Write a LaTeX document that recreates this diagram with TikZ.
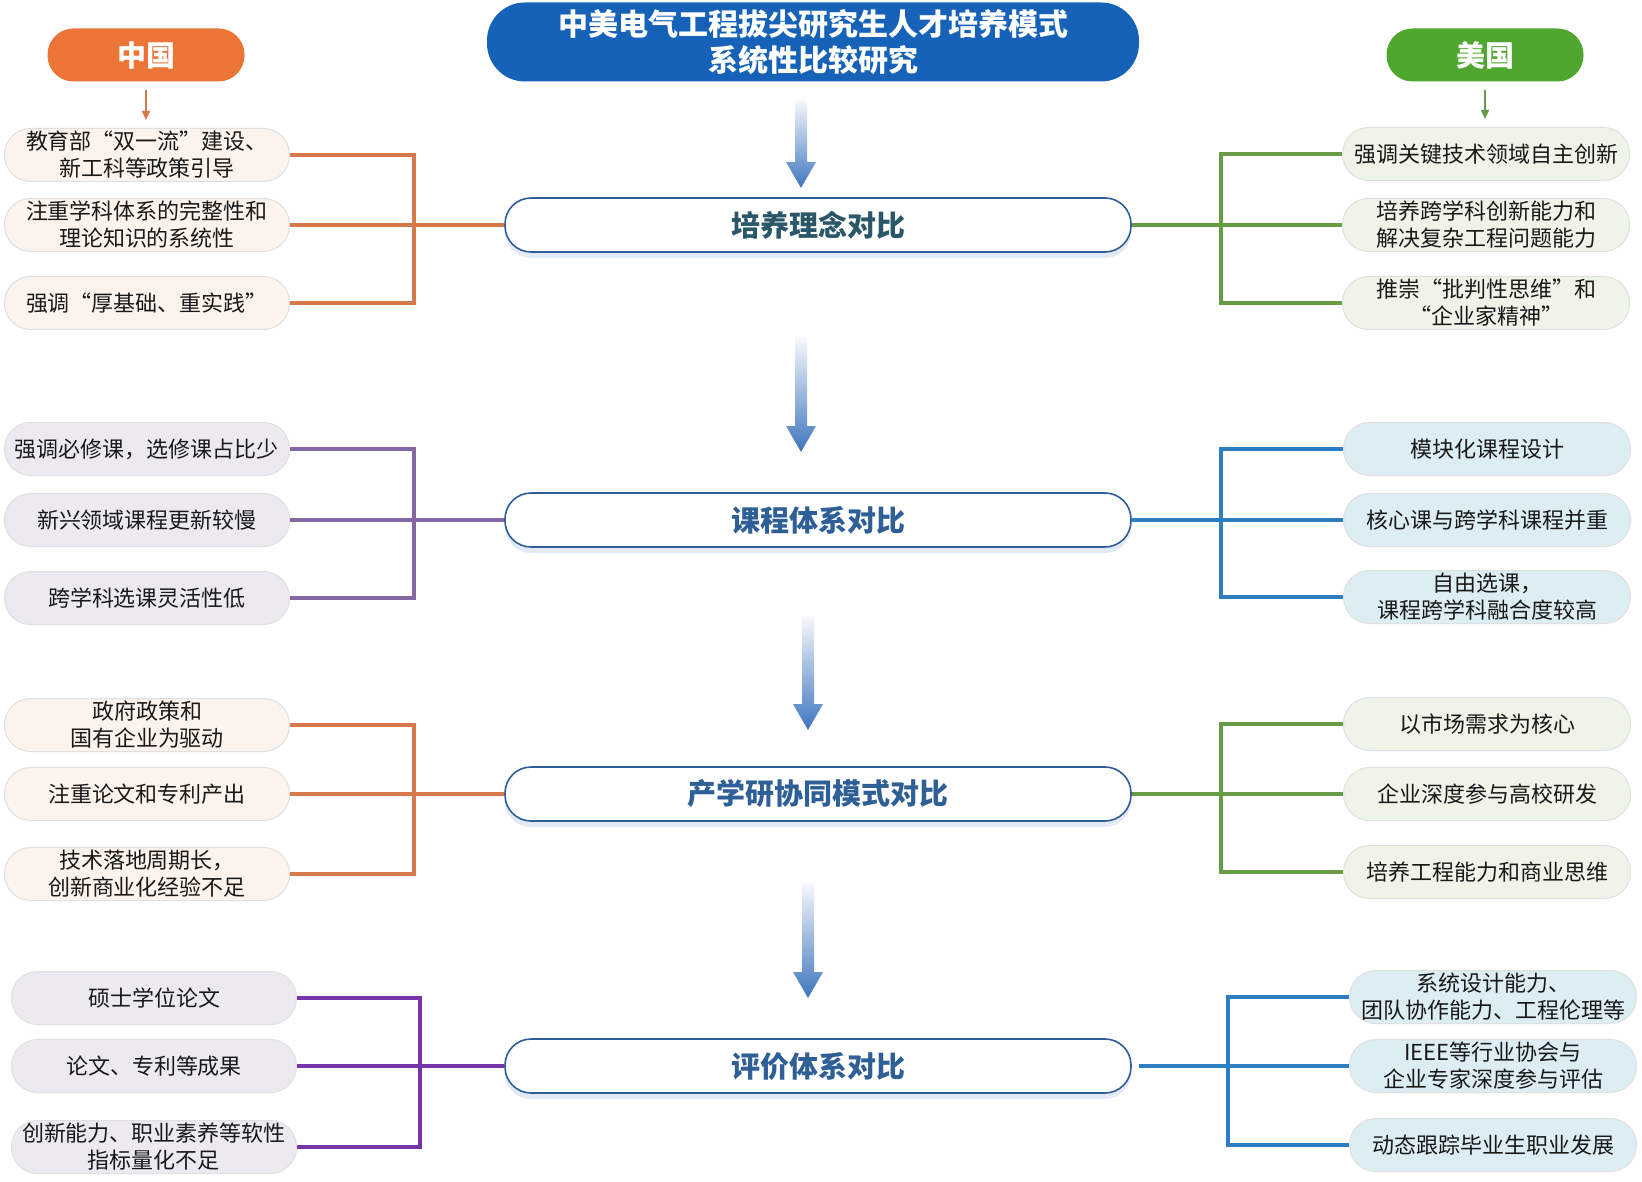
\documentclass[tikz,border=0pt]{standalone}
\usepackage{fontspec}
\setmainfont{Noto Sans CJK SC}
\usetikzlibrary{arrows.meta,shadows}

\definecolor{titleblue}{HTML}{1662B8}
\definecolor{cnorange}{HTML}{EB7537}
\definecolor{usgreen}{HTML}{50A72F}
\definecolor{boxedge}{HTML}{2F5D99}
\definecolor{headteal}{HTML}{2A5868}
\definecolor{headblue}{HTML}{2F5F97}
\definecolor{lnorange}{HTML}{D6784A}
\definecolor{lnpurple}{HTML}{8468A6}
\definecolor{lnviolet}{HTML}{7534A8}
\definecolor{lngreen}{HTML}{679B46}
\definecolor{lnblue}{HTML}{2C7DC2}
\definecolor{fillpeach}{HTML}{FCF3EC}
\definecolor{filllilac}{HTML}{ECEAF0}
\definecolor{fillmint}{HTML}{EFF4E9}
\definecolor{fillsky}{HTML}{DDEDF4}
\definecolor{arrowblue}{HTML}{3E75BD}

\tikzset{
  pill/.style={rectangle,rounded corners=26pt,minimum height=53pt,inner xsep=2pt,inner ysep=0pt,align=center},
  sidebox/.style={pill,draw=black!12,line width=1pt,text=black!90,font=\fontsize{22}{27}\selectfont},
  leftbox/.style={sidebox,minimum width=285pt},
  rightbox/.style={sidebox,minimum width=287pt},
  headbox/.style={pill,minimum width=626pt,minimum height=54pt,draw=boxedge,line width=1.6pt,fill=white,
    text=headblue,font=\fontsize{29}{34}\selectfont\bfseries,
    drop shadow={shadow xshift=0pt,shadow yshift=-6pt,fill=arrowblue!30,opacity=0.5}},
  titlebox/.style={pill,rounded corners=38pt,minimum width=652pt,minimum height=79pt,fill=titleblue,
    text=white,font=\fontsize{30}{36}\selectfont\bfseries},
  countrybox/.style={pill,minimum width=197pt,text=white,font=\fontsize{29}{34}\selectfont\bfseries},
  link/.style={line width=3.2pt},
  downarrow/.style={line width=1.6pt,-{Triangle[width=8pt,length=9pt]},shorten <=8pt,shorten >=8pt}
}

\begin{document}
\begin{tikzpicture}[x=1pt,y=-1pt]
\useasboundingbox (0,0) rectangle (1642,1182);

% title and the two countries
\node[titlebox] (title) at (813,42) {中美电气工程拔尖研究生人才培养模式\\系统性比较研究};
\node[countrybox,fill=cnorange] (cn) at (146,55) {中国};
\node[countrybox,fill=usgreen] (us) at (1485,55) {美国};

% the four comparisons
\node[headbox,text=headteal] (c1) at (818,225) {培养理念对比};
\node[headbox] (c2) at (818,520) {课程体系对比};
\node[headbox] (c3) at (818,794) {产学研协同模式对比};
\node[headbox] (c4) at (818,1066) {评价体系对比};

% flow arrows between the comparisons
\foreach \x/\ya/\yb in {801/100/188, 801/337/452, 808/616/730, 808/883/998}
  \shade[top color=arrowblue!4,bottom color=arrowblue]
    (\x-6,\ya) -- (\x+6,\ya) -- (\x+6,\yb-26) -- (\x+15,\yb-26) -- (\x,\yb)
    -- (\x-15,\yb-26) -- (\x-6,\yb-26) -- cycle;

% China
\begin{scope}[every node/.style={leftbox}]
  \node[fill=fillpeach] (l1a) at (147,155) {教育部“双一流”建设、\\新工科等政策引导};
  \node[fill=fillpeach] (l1b) at (147,225) {注重学科体系的完整性和\\理论知识的系统性};
  \node[fill=fillpeach] (l1c) at (147,303) {强调“厚基础、重实践”};
  \node[fill=filllilac] (l2a) at (147,449) {强调必修课，选修课占比少};
  \node[fill=filllilac] (l2b) at (147,520) {新兴领域课程更新较慢};
  \node[fill=filllilac] (l2c) at (147,598) {跨学科选课灵活性低};
  \node[fill=fillpeach] (l3a) at (147,725) {政府政策和\\国有企业为驱动};
  \node[fill=fillpeach] (l3b) at (147,794) {注重论文和专利产出};
  \node[fill=fillpeach] (l3c) at (147,874) {技术落地周期长，\\创新商业化经验不足};
  \node[fill=filllilac] (l4a) at (154,998) {硕士学位论文};
  \node[fill=filllilac] (l4b) at (154,1066) {论文、专利等成果};
  \node[fill=filllilac] (l4c) at (154,1147) {创新能力、职业素养等软性\\指标量化不足};
\end{scope}

% USA
\begin{scope}[every node/.style={rightbox}]
  \node[fill=fillmint] (r1a) at (1486,154) {强调关键技术领域自主创新};
  \node[fill=fillmint] (r1b) at (1486,225) {培养跨学科创新能力和\\解决复杂工程问题能力};
  \node[fill=fillmint] (r1c) at (1486,303) {推崇“批判性思维”和\\“企业家精神”};
  \node[fill=fillsky] (r2a) at (1487,449) {模块化课程设计};
  \node[fill=fillsky] (r2b) at (1487,520) {核心课与跨学科课程并重};
  \node[fill=fillsky] (r2c) at (1487,597) {自由选课，\\课程跨学科融合度较高};
  \node[fill=fillmint] (r3a) at (1487,724) {以市场需求为核心};
  \node[fill=fillmint] (r3b) at (1487,794) {企业深度参与高校研发};
  \node[fill=fillmint] (r3c) at (1487,872) {培养工程能力和商业思维};
  \node[fill=fillsky] (r4a) at (1493,997) {系统设计能力、\\团队协作能力、工程伦理等};
  \node[fill=fillsky] (r4b) at (1493,1066) {IEEE等行业协会与\\企业专家深度参与评估};
  \node[fill=fillsky] (r4c) at (1493,1145) {动态跟踪毕业生职业发展};
\end{scope}

\draw[downarrow,lnorange] (cn.south) -- (cn.south |- l1a.north);
\draw[downarrow,lngreen] (us.south) -- (us.south |- r1a.north);

% left brackets
\coordinate (jl1) at (414,225);
\coordinate (jl2) at (414,520);
\coordinate (jl3) at (414,794);
\coordinate (jl4) at (420,1066);
\draw[link,lnorange] (l1a.east) -| (jl1) |- (l1c.east);
\draw[link,lnorange] (l1b.east) -- (c1.west);
\draw[link,lnpurple] (l2a.east) -| (jl2) |- (l2c.east);
\draw[link,lnpurple] (l2b.east) -- (c2.west);
\draw[link,lnorange] (l3a.east) -| (jl3) |- (l3c.east);
\draw[link,lnorange] (l3b.east) -- (c3.west);
\draw[link,lnviolet] (l4a.east) -| (jl4) |- (l4c.east);
\draw[link,lnviolet] (l4b.east) -- (c4.west);

% right brackets
\coordinate (jr1) at (1221,225);
\coordinate (jr2) at (1221,520);
\coordinate (jr3) at (1221,794);
\coordinate (jr4) at (1228,1066);
\draw[link,lngreen] (r1a.west) -| (jr1) |- (r1c.west);
\draw[link,lngreen] (c1.east) -- (r1b.west);
\draw[link,lnblue] (r2a.west) -| (jr2) |- (r2c.west);
\draw[link,lnblue] (c2.east) -- (r2b.west);
\draw[link,lngreen] (r3a.west) -| (jr3) |- (r3c.west);
\draw[link,lngreen] (c3.east) -- (r3b.west);
\draw[link,lnblue] (r4a.west) -| (jr4) |- (r4c.west);
\draw[link,lnblue,shorten <=7pt] (c4.east) -- (r4b.west);
\end{tikzpicture}
\end{document}
